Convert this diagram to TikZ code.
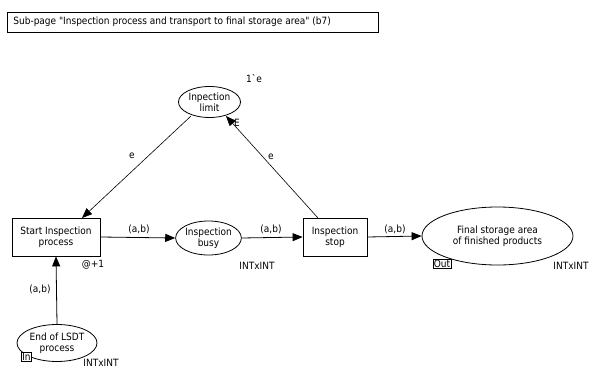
\documentclass[tikz,border=0pt]{standalone}
\usepackage{fontspec}
\setmainfont{DejaVu Sans Condensed}[Ligatures=TeXOff]
\usetikzlibrary{arrows.meta,shapes.geometric}
\begin{document}
\begin{tikzpicture}[x=1pt,y=-1pt,line width=0.8pt,
  font=\fontsize{10}{11.5}\selectfont,
  place/.style={draw,ellipse,inner sep=0pt,align=center},
  trans/.style={draw,rectangle,inner sep=0pt,align=center},
  arc/.style={draw,-{Triangle[length=10pt,width=8pt]}},
  lbl/.style={inner sep=0pt},
  tag/.style={draw,inner sep=0.8pt,fill=white,line width=0.9pt}]
\useasboundingbox (0,0) rectangle (592,369);
\node[draw,minimum width=371pt,minimum height=20pt,inner sep=0pt,line width=0.6pt] (title) at (192.5,22) {};
\node[lbl,anchor=west] (titletext) at (13,22) {Sub-page "Inspection process and transport to final storage area" (b7)};
\node[place,minimum width=62pt,minimum height=31pt] (lim) at (209.5,102) {Inpection\\limit};
\node[trans,minimum width=88pt,minimum height=38pt] (start) at (56,237) {Start Inspection\\process};
\node[place,minimum width=63pt,minimum height=34pt] (busy) at (208.5,238) {Inspection\\busy};
\node[trans,minimum width=64pt,minimum height=38pt] (stop) at (335,237) {Inspection\\stop};
\node[place,minimum width=151pt,minimum height=58pt] (final) at (497.5,236) {Final storage area\\of finished products};
\node[place,minimum width=80pt,minimum height=37pt] (lsdt) at (57,343) {End of LSDT\\process};
\coordinate (limA) at (191,116);
\coordinate (startTop) at (82,218);
\coordinate (stopTop) at (318,218);
\coordinate (limB) at (226,116);
\draw[arc,line width=0.6pt] (limA) -- (startTop);
\draw[arc,line width=0.6pt] (stopTop) -- (limB);
\draw[arc] (start.east) -- (busy.west);
\draw[arc] (busy.east) -- (stop.west);
\draw[arc] (stop.east) -- (final.west);
\draw[arc] (lsdt.north) -- (start.south);
\node[lbl] (e1) at (132,156) {e};
\node[lbl] (e2) at (271,157) {e};
\node[lbl] (E) at (237,123) {E};
\node[lbl] (init) at (254,79) {1`e};
\node[lbl] (ab1) at (139,229) {(a,b)};
\node[lbl] (ab2) at (271,229) {(a,b)};
\node[lbl] (ab3) at (395,229) {(a,b)};
\node[lbl] (ab4) at (40,289) {(a,b)};
\node[lbl] (delay) at (93,265) {@+1};
\node[lbl] (t1) at (257,266) {INTxINT};
\node[lbl] (t2) at (571,266) {INTxINT};
\node[lbl] (t3) at (101,363) {INTxINT};
\node[tag] (out) at (442,264) {Out};
\node[tag] (in) at (26.5,357) {In};
\end{tikzpicture}
\end{document}
